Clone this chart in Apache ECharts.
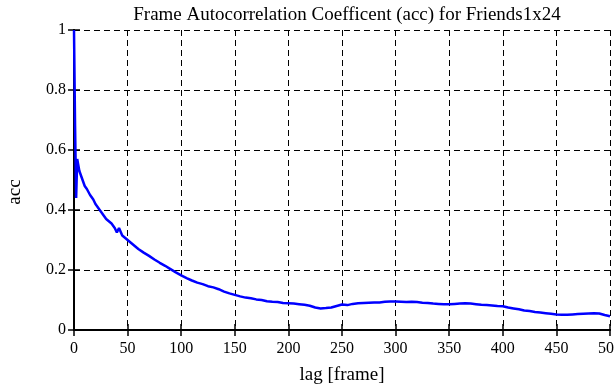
<!DOCTYPE html>
<html>
<head>
<meta charset="utf-8">
<script src="https://cdn.jsdelivr.net/npm/echarts@6/dist/echarts.min.js"></script>
<style>
  html, body { margin: 0; padding: 0; background: #fff; }
  #main { width: 614px; height: 385px; }
</style>
</head>
<body>
<div id="main"></div>
<script>
// lag in frames and the autocorrelation coefficient
var lags = [0, 1, 2, 3, 4, 5, 7, 10, 12, 15, 18, 20, 25, 30, 35, 38, 40, 42, 45, 50,
  55, 60, 65, 70, 75, 80, 85, 90, 95, 100, 105, 110, 115, 120, 125, 130, 135, 140, 145, 150,
  155, 160, 165, 170, 175, 180, 185, 190, 195, 200, 205, 210, 215, 220, 225, 230, 235, 240, 245, 250,
  255, 260, 265, 270, 275, 280, 285, 290, 295, 300, 305, 310, 315, 320, 325, 330, 335, 340, 345, 350,
  355, 360, 365, 370, 375, 380, 385, 390, 395, 400, 405, 410, 415, 420, 425, 430, 435, 440, 445, 450,
  455, 460, 465, 470, 475, 480, 485, 490, 495, 500];
var acc = [1.0, 0.68, 0.44, 0.57, 0.55, 0.53, 0.51, 0.48, 0.47, 0.45, 0.435, 0.42, 0.395, 0.37, 0.355, 0.34, 0.325, 0.34, 0.315, 0.30,
  0.285, 0.27, 0.258, 0.247, 0.235, 0.224, 0.214, 0.203, 0.192, 0.182, 0.173, 0.165, 0.158, 0.153, 0.146, 0.142, 0.136, 0.128, 0.122, 0.117,
  0.112, 0.108, 0.106, 0.102, 0.100, 0.096, 0.094, 0.093, 0.090, 0.089, 0.088, 0.086, 0.084, 0.081, 0.075, 0.072, 0.073, 0.075, 0.080, 0.085,
  0.083, 0.087, 0.089, 0.090, 0.091, 0.092, 0.092, 0.094, 0.095, 0.095, 0.094, 0.093, 0.094, 0.093, 0.091, 0.090, 0.088, 0.087, 0.086, 0.086,
  0.087, 0.088, 0.089, 0.088, 0.086, 0.084, 0.083, 0.082, 0.080, 0.079, 0.075, 0.072, 0.069, 0.065, 0.063, 0.060, 0.058, 0.056, 0.054, 0.052,
  0.051, 0.051, 0.052, 0.053, 0.054, 0.055, 0.056, 0.055, 0.050, 0.046];

var font = 'Liberation Serif';

var points = lags.map(function (l, i) { return [l, acc[i]]; });

var chart = echarts.init(document.getElementById('main'));
chart.setOption({
  animation: false,
  backgroundColor: '#fff',
  title: {
    text: 'Frame Autocorrelation Coefficent (acc) for Friends1x24',
    left: 342,
    textAlign: 'center',
    top: 1,
    textStyle: { fontFamily: font, fontSize: 19, fontWeight: 'normal', color: '#000' }
  },
  grid: { left: 74, right: 4, top: 30, bottom: 55, show: false, containLabel: false, outerBoundsMode: 'none' },
  xAxis: [{
    type: 'value', min: 0, max: 500, interval: 50,
    name: 'lag [frame]', nameLocation: 'middle', nameGap: 36,
    nameTextStyle: { fontFamily: font, fontSize: 19, color: '#000' },
    axisLine: { lineStyle: { color: '#000', width: 2 } },
    axisTick: { inside: true, length: 6, lineStyle: { color: '#000', width: 1.5 } },
    axisLabel: { fontFamily: font, fontSize: 16, color: '#000', margin: 11 },
    splitLine: { show: true, lineStyle: { color: '#000', type: [6, 4], width: 1 } }
  }, {
    type: 'value', min: 0, max: 500, interval: 50, position: 'top',
    axisLine: { lineStyle: { color: '#000', width: 2 } },
    axisTick: { inside: true, length: 6, lineStyle: { color: '#000', width: 1.5 } },
    axisLabel: { show: false }, splitLine: { show: false }
  }],
  yAxis: [{
    type: 'value', min: 0, max: 1, interval: 0.2,
    name: 'acc', nameLocation: 'middle', nameGap: 49,
    nameTextStyle: { fontFamily: font, fontSize: 19, color: '#000', padding: [0, 24, 0, 0] },
    axisLine: { show: true, lineStyle: { color: '#000', width: 2 } },
    axisTick: { show: true, inside: true, length: 6, lineStyle: { color: '#000', width: 1.5 } },
    axisLabel: { fontFamily: font, fontSize: 16, color: '#000', margin: 8 },
    splitLine: { show: true, lineStyle: { color: '#000', type: [6, 4], width: 1 } }
  }, {
    type: 'value', min: 0, max: 1, interval: 0.2, position: 'right',
    axisLine: { show: true, lineStyle: { color: '#000', width: 2 } },
    axisTick: { show: true, inside: true, length: 6, lineStyle: { color: '#000', width: 1.5 } },
    axisLabel: { show: false }, splitLine: { show: false }
  }],
  series: [{
    type: 'line',
    data: points,
    showSymbol: false,
    lineStyle: { color: '#0000ff', width: 2.5 },
    z: 1
  }]
});
</script>
</body>
</html>
